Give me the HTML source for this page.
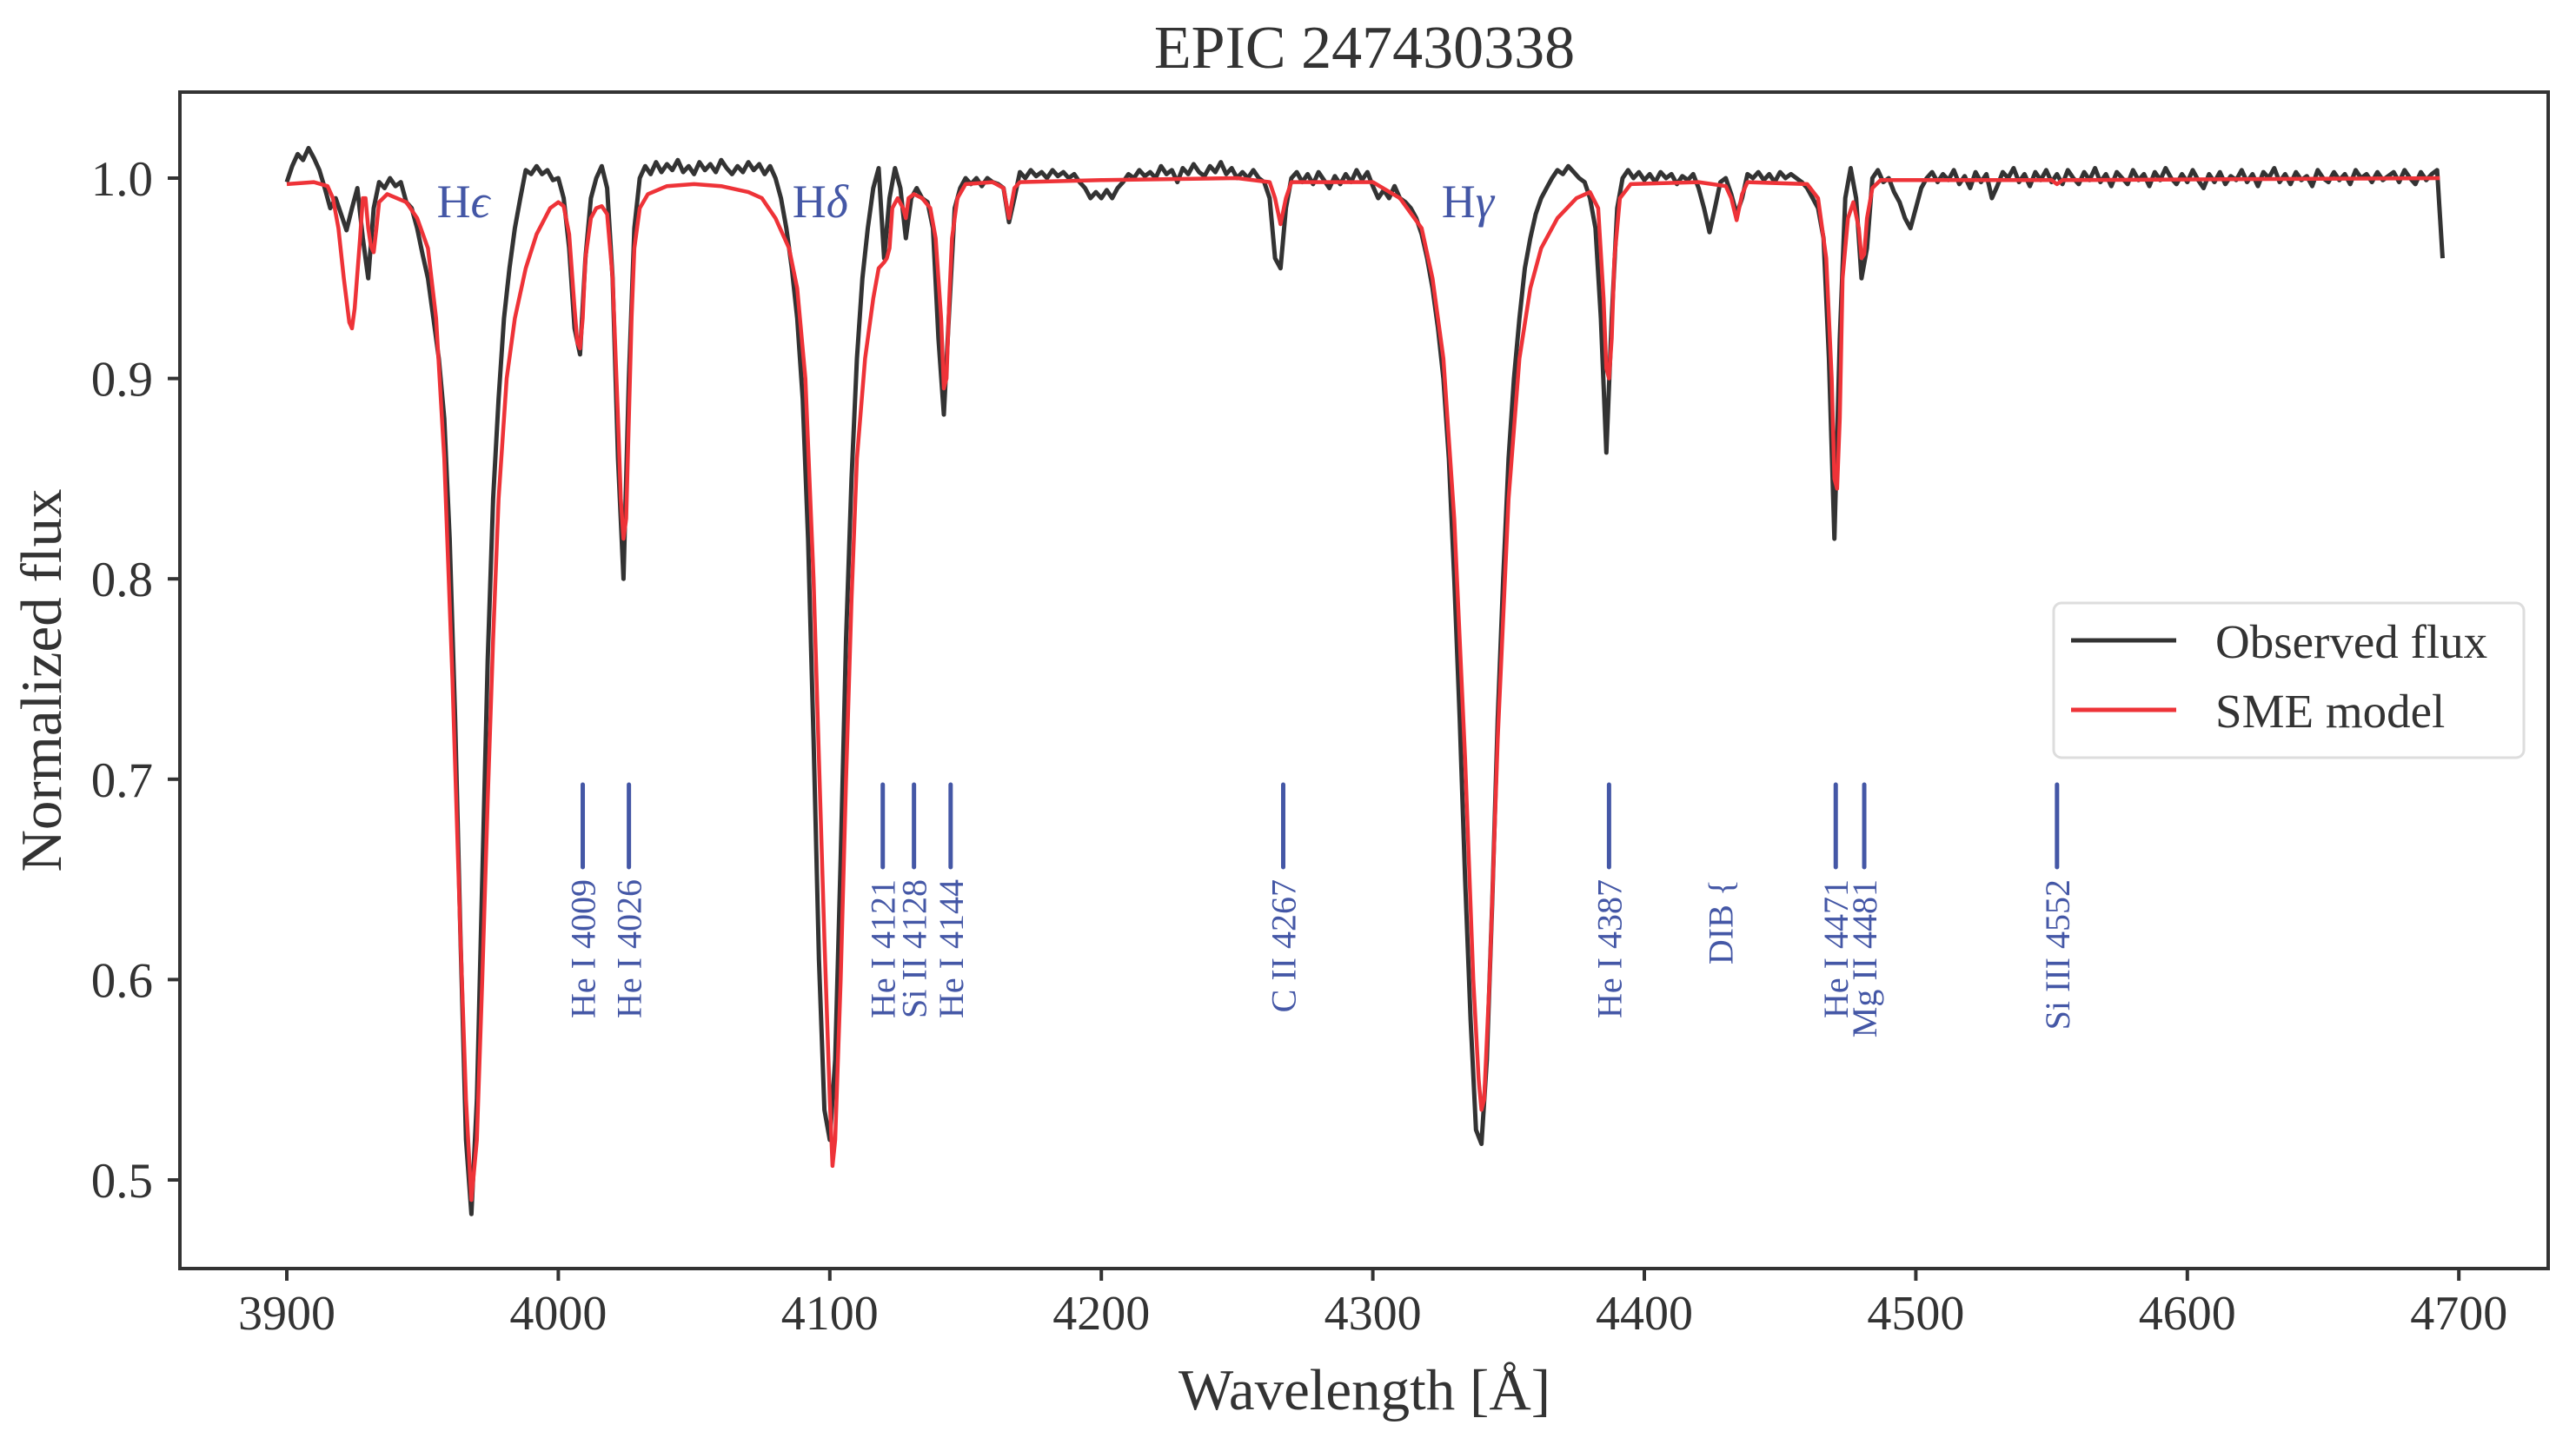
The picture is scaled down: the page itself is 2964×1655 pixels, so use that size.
<!DOCTYPE html>
<html><head><meta charset="utf-8">
<style>
html,body{margin:0;padding:0;background:#fff;}
svg{display:block;font-family:"Liberation Serif",serif;}
</style></head>
<body>
<svg id="chart" width="2964" height="1655" viewBox="0 0 2964 1655">
<rect x="0" y="0" width="2964" height="1655" fill="#fff"/>
<g id="plot"></g>
<text x="1570" y="78" font-size="70" fill="#333" text-anchor="middle">EPIC 247430338</text>
<text x="1570" y="1622" font-size="67" fill="#333" text-anchor="middle">Wavelength  [Å]</text>
<text x="0" y="0" font-size="67" fill="#333" text-anchor="middle" transform="translate(70,783) rotate(-90)">Normalized flux</text>
<g id="legend">
<rect x="2363" y="694" width="541" height="178" rx="9" fill="#fff" fill-opacity="0.85" stroke="#ddd" stroke-width="3"/>
<line x1="2383" y1="737" x2="2504" y2="737" stroke="#333" stroke-width="5"/>
<text x="2549" y="757" font-size="55" fill="#333">Observed flux</text>
<line x1="2383" y1="817" x2="2504" y2="817" stroke="#ee3338" stroke-width="5"/>
<text x="2549" y="837" font-size="55" fill="#333">SME model</text>
</g>
</svg>
<script>
const xTicks = [3900,4000,4100,4200,4300,4400,4500,4600,4700];
const yTicks = [0.5,0.6,0.7,0.8,0.9,1.0];
const yTickLabels = ["0.5","0.6","0.7","0.8","0.9","1.0"];
const obsStart = 3900;
const obsStep = 2;
const obsFlux = [
0.998,1.006,1.012,1.009,1.015,1.010,1.004,
0.995,0.985,0.990,0.982,0.974,0.985,0.995,0.970,0.950,0.985,0.998,0.995,1.000,0.996,
0.998,0.988,0.985,0.975,0.962,0.950,0.930,0.910,0.880,0.820,0.730,0.620,0.520,0.483,0.540,0.650,0.760,0.840,0.890,0.930,0.955,0.975,0.990,1.004,1.002,1.006,1.002,1.004,0.999,
1.000,0.990,0.965,0.925,0.912,0.960,0.990,1.000,1.006,0.995,0.950,0.860,0.800,0.900,0.975,1.000,
1.006,1.002,1.008,1.003,1.007,1.004,1.009,1.003,1.006,1.002,1.008,1.004,1.007,1.003,1.009,1.005,1.002,1.006,1.003,1.008,1.004,1.007,1.002,1.006,
1.000,0.990,0.975,0.955,0.930,0.890,0.820,0.720,0.610,0.535,0.520,0.560,0.660,0.770,0.850,0.910,0.950,0.975,0.995,1.005,0.960,0.990,1.005,0.995,0.970,0.990,0.995,0.990,0.988,0.975,0.920,0.882,0.935,0.985,0.995,
1.000,0.997,1.000,0.996,1.000,0.998,0.997,0.995,0.978,0.990,1.003,1.000,1.004,1.001,1.003,1.000,1.004,1.001,1.003,1.000,1.002,0.998,0.995,0.990,0.993,
0.990,0.994,0.990,0.995,0.998,1.002,1.000,1.004,1.001,1.003,1.000,1.006,1.002,1.004,0.998,1.005,1.002,1.007,1.003,1.001,1.006,1.003,1.008,1.002,1.005,
1.000,1.003,1.000,1.004,1.000,0.998,0.990,0.960,0.955,0.985,1.000,1.003,0.998,1.002,0.997,1.003,0.999,0.995,1.001,0.997,1.002,0.998,1.004,0.999,1.003,
0.996,0.990,0.994,0.990,0.996,0.990,0.988,0.985,0.980,0.972,0.960,0.945,0.925,0.900,0.860,0.800,0.730,0.650,0.580,0.525,0.518,0.560,0.640,0.730,0.800,
0.860,0.900,0.930,0.955,0.970,0.982,0.990,0.995,1.000,1.004,1.002,1.006,1.003,1.000,0.998,0.990,0.975,0.930,0.863,0.930,0.985,1.000,1.004,1.000,1.003,
0.999,1.002,0.998,1.003,1.000,1.002,0.997,1.001,0.999,1.002,0.995,0.985,0.973,0.985,0.998,1.000,0.992,0.982,0.990,1.002,1.000,1.003,0.999,1.002,0.998,
1.003,1.000,1.002,1.000,0.998,0.995,0.990,0.985,0.970,0.910,0.820,0.920,0.990,1.005,0.990,0.950,0.965,1.000,1.004,0.998,1.000,0.993,0.988,0.980,0.975,
0.985,0.995,1.000,1.003,0.998,1.002,0.999,1.004,0.997,1.001,0.995,1.003,0.998,1.002,0.990,0.996,1.003,1.000,1.005,0.998,1.002,0.996,1.003,0.999,1.004,
0.998,1.002,0.997,1.004,1.000,0.997,1.003,0.999,1.005,0.998,1.002,0.996,1.003,1.000,0.997,1.004,0.999,1.002,0.996,1.003,0.999,1.005,1.000,0.997,1.002,
0.998,1.004,0.999,0.995,1.002,0.998,1.003,0.997,1.001,0.999,1.004,0.998,1.002,0.996,1.003,1.000,1.005,0.998,1.002,0.997,1.003,0.999,1.001,0.996,1.004,
1.000,0.998,1.003,0.999,1.002,0.997,1.004,1.000,1.002,0.998,1.003,0.999,1.001,1.003,
0.998,1.004,1.000,0.997,1.003,0.999,1.002,1.004,0.960
];
const modelWave = [3900,3910,3915,3917,3919,3921,3923,3924,3925,3927,3928,3929,3930,3931,3932,3933,3934,3937,3944,3948,3952,3955,3958,3961,3964,3966,3968,3970,3972,3974,3976,3978,3981,3984,3988,3992,3997,4000,4002,4004,4006,4007,4008,4009,4010,4012,4014,4016,4018,4020,4022,4023,4024,4025,4026,4027,4028,4030,4033,4040,4050,4060,4070,4075,4080,4085,4088,4091,4094,4096,4098,4100,4101,4102,4104,4106,4108,4110,4113,4116,4118,4120,4121,4122,4123,4125,4127,4128,4129,4131,4134,4137,4139,4141,4142,4143,4144,4145,4147,4150,4160,4164,4166,4168,4170,4200,4250,4262,4264,4266,4268,4270,4300,4310,4318,4322,4326,4330,4334,4337,4339,4340,4341,4343,4346,4350,4354,4358,4362,4368,4375,4380,4383,4385,4386,4387,4388,4389,4391,4395,4420,4430,4432,4434,4436,4438,4460,4464,4467,4469,4470,4471,4472,4473,4475,4477,4479,4480,4481,4482,4484,4487,4550,4552,4554,4693];
const modelFlux = [0.997,0.998,0.996,0.990,0.975,0.950,0.928,0.925,0.935,0.970,0.990,0.990,0.975,0.966,0.963,0.975,0.988,0.992,0.988,0.980,0.965,0.930,0.860,0.750,0.620,0.540,0.490,0.520,0.600,0.690,0.770,0.840,0.900,0.930,0.955,0.972,0.985,0.988,0.986,0.972,0.935,0.918,0.915,0.930,0.960,0.980,0.985,0.986,0.982,0.950,0.880,0.840,0.820,0.830,0.880,0.930,0.965,0.985,0.992,0.996,0.997,0.996,0.993,0.990,0.980,0.965,0.945,0.900,0.800,0.710,0.620,0.540,0.507,0.520,0.600,0.700,0.790,0.860,0.910,0.940,0.955,0.958,0.960,0.965,0.985,0.990,0.985,0.980,0.990,0.992,0.990,0.985,0.970,0.930,0.895,0.900,0.940,0.970,0.990,0.997,0.998,0.995,0.980,0.995,0.998,0.999,1.000,0.998,0.990,0.977,0.990,0.998,0.998,0.990,0.975,0.950,0.910,0.830,0.710,0.600,0.550,0.535,0.540,0.600,0.720,0.840,0.910,0.945,0.965,0.980,0.990,0.993,0.985,0.940,0.905,0.900,0.920,0.960,0.990,0.997,0.998,0.996,0.990,0.979,0.992,0.998,0.997,0.990,0.960,0.900,0.850,0.845,0.880,0.950,0.980,0.988,0.975,0.960,0.962,0.980,0.995,0.999,0.999,0.997,0.999,1.000];
const lineWave = [4009,4026,4119.5,4131,4144.5,4267,4387,4470.5,4481,4552];
const lineLabels = ["He I 4009","He I 4026","He I 4121","Si II 4128","He I 4144","C II 4267","He I 4387","He I 4471","Mg II 4481","Si III 4552"];
const hLineWave = [3965,4096.5,4335];
const hLineLabels = ["H","H","H"];
const hLineGreek = ["ϵ","δ","γ"];

const X0=330, XPER=3.124, Y1=205, YPER=2306;
function xs(w){return X0+(w-3900)*XPER;}
function ys(f){return Y1+(1.0-f)*YPER;}
const NS="http://www.w3.org/2000/svg";
const plot=document.getElementById('plot');
function mk(tag,attrs,parent){const e=document.createElementNS(NS,tag);for(const k in attrs)e.setAttribute(k,attrs[k]);(parent||plot).appendChild(e);return e;}

const defs=mk('defs',{});
const cp=mk('clipPath',{id:'clip'},defs);
mk('rect',{x:207,y:106,width:2725,height:1354},cp);

xTicks.forEach(t=>{
  const l=mk('line',{x1:xs(t),x2:xs(t),y1:1460,y2:1474,stroke:'#333','stroke-width':4});
  
  
  const tx=mk('text',{x:xs(t),y:1530,'font-size':56,fill:'#333','text-anchor':'middle'});
  tx.textContent=String(t);
  
  
});
yTicks.forEach((t,i)=>{
  const l=mk('line',{x1:193,x2:207,y1:ys(t),y2:ys(t),stroke:'#333','stroke-width':4});
  
  
  const tx=mk('text',{x:176,y:ys(t)+20,'font-size':57,fill:'#333','text-anchor':'end'});
  tx.textContent=yTickLabels[i];
  
  
});

let d='';
obsFlux.forEach((f,i)=>{const w=obsStart+i*obsStep;d+=(i?'L':'M')+xs(w).toFixed(1)+' '+ys(f).toFixed(1);});
const obs=mk('path',{d:d,fill:'none',stroke:'#333','stroke-width':5,'stroke-linejoin':'round','clip-path':'url(#clip)'});


let dm='';
modelWave.forEach((w,i)=>{dm+=(i?'L':'M')+xs(w).toFixed(1)+' '+ys(modelFlux[i]).toFixed(1);});
const mod=mk('path',{d:dm,fill:'none',stroke:'#ee3338','stroke-width':4.5,'stroke-linejoin':'round','clip-path':'url(#clip)'});



lineWave.forEach((w,i)=>{
  const l=mk('line',{x1:xs(w),x2:xs(w),y1:903,y2:998,stroke:'#4457a6','stroke-width':5,'stroke-linecap':'round'});
  
  
  const tx=mk('text',{x:0,y:0,'font-size':40,fill:'#4457a6','text-anchor':'end',transform:'translate('+(xs(w)+14)+',1012) rotate(-90)'});
  tx.textContent=lineLabels[i];
  
  
});
const dib=mk('text',{x:0,y:0,'font-size':40,fill:'#4457a6','text-anchor':'end',transform:'translate('+(xs(4428)+14)+',1012) rotate(-90)'});
dib.textContent='DIB {';



hLineWave.forEach((w,i)=>{
  const tx=mk('text',{x:xs(w),y:250,'font-size':54,fill:'#4457a6','text-anchor':'middle'});
  tx.textContent=hLineLabels[i];
  const ts=mk('tspan',{'font-style':'italic'},tx);
  ts.textContent=hLineGreek[i];
  
  
});

const fr=mk('rect',{x:207,y:106,width:2725,height:1354,fill:'none',stroke:'#333','stroke-width':4});


</script>
</body></html>
